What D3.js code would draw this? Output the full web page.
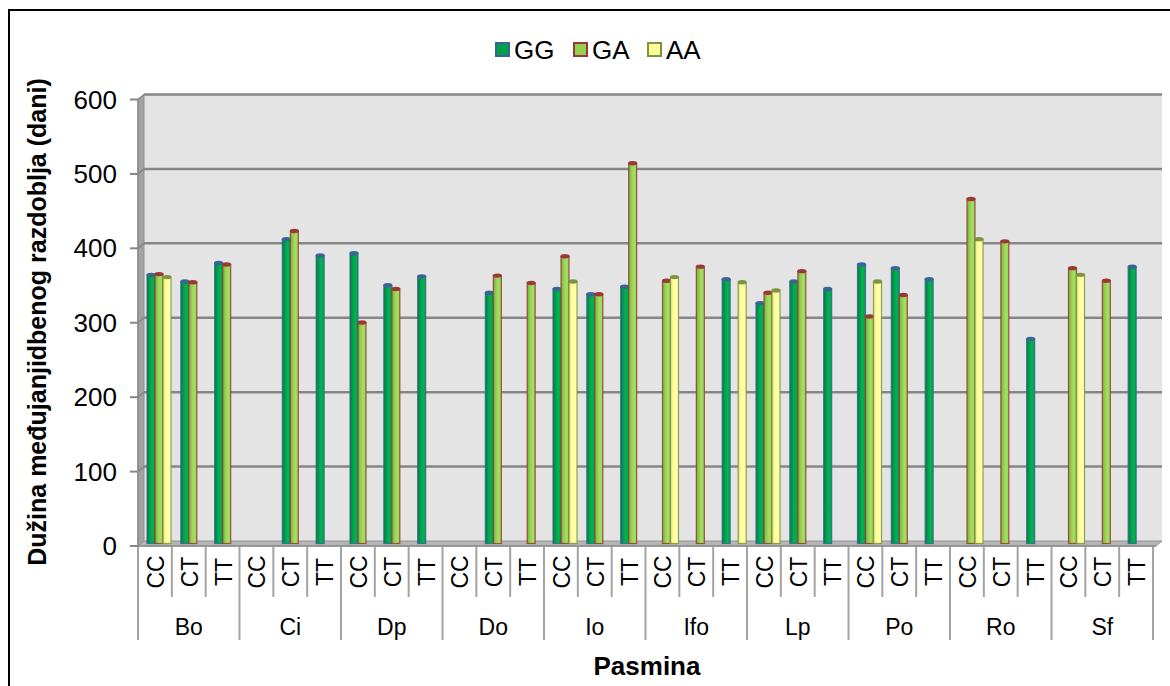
<!DOCTYPE html>
<html>
<head>
<meta charset="utf-8">
<script src="https://cdn.jsdelivr.net/npm/d3@7"></script>
<style>
  body { margin: 0; background: #fff; }
  svg { display: block; }
  text { font-family: "Liberation Sans", Arial, sans-serif; fill: #000; }
</style>
</head>
<body>
<svg id="chart" width="1170" height="686"></svg>
<script>
// Breeds (outer axis level) and genotypes (inner axis level)
const breeds = ["Bo", "Ci", "Dp", "Do", "Io", "Ifo", "Lp", "Po", "Ro", "Sf"];
const genotypes = ["CC", "CT", "TT"];
const seriesNames = ["GG", "GA", "AA"];

// Lambing interval (days), one value per breed × genotype, null where no animals
const valuesGG = [361, 352, 377,  null, 409, 387,  390, 347, 359,  null, 337, null,
                  342, 335, 345,  null, null, 355,  323, 352, 342,  375, 370, 355,
                  null, null, 275,  null, null, 372];
const valuesGA = [362, 351, 375,  null, 420, null,  297, 342, null,  null, 360, 350,
                  386, 335, 511,  353, 372, null,  337, 366, null,  305, 334, null,
                  463, 406, null,  370, 353, null];
const valuesAA = [358, null, null,  null, null, null,  null, null, null,  null, null, null,
                  352, null, null,  358, null, 351,  340, null, null,  352, null, null,
                  409, null, null,  361, null, null];
const yTicks = [0, 100, 200, 300, 400, 500, 600];

const seriesValues = { GG: valuesGG, GA: valuesGA, AA: valuesAA };
const palette = {
  GG: { light: "#00b452", mid: "#00a04a", dark: "#007c38", edge: "#3b6496" },
  GA: { light: "#a6df62", mid: "#92d050", dark: "#74ad3a", edge: "#9a3835" },
  AA: { light: "#ffffb0", mid: "#ffff99", dark: "#e2e27a", edge: "#7a9440" }
};

const svg = d3.select("#chart");
const defs = svg.append("defs");

// Outer frame
svg.append("rect").attr("x", 9).attr("y", 10).attr("width", 1170).attr("height", 690)
  .attr("fill", "none").attr("stroke", "#000").attr("stroke-width", 2);

// Category keys (breed|genotype)
const keys = [];
breeds.forEach(b => genotypes.forEach(g => keys.push(b + "|" + g)));

const x = d3.scaleBand().domain(keys).range([138, 1153]).padding(0);
const xs = d3.scaleBand().domain(seriesNames).range([9, 33]).padding(0);
const y = d3.scaleLinear().domain([0, 600]).range([546, 99.5]);

// 3D depth offset of the back wall
const dx = 6, dy = -5;
const x0 = 138, x1 = 1156;

// Back wall
svg.append("rect").attr("x", x0 + dx).attr("y", y(600) + dy)
  .attr("width", 1162 - (x0 + dx)).attr("height", y(0) - y(600))
  .attr("fill", "#e4e4e4");

// Left side wall
svg.append("polygon")
  .attr("points", [[x0, y(600)], [x0 + dx, y(600) + dy], [x0 + dx, y(0) + dy], [x0, y(0)]].join(" "))
  .attr("fill", "#a3a3a3").attr("stroke", "#8f8f8f").attr("stroke-width", 1);

// Floor
svg.append("polygon")
  .attr("points", [[x0, y(0)], [x0 + dx, y(0) + dy], [1162, y(0) + dy], [x1, y(0)]].join(" "))
  .attr("fill", "#b5b5b5").attr("stroke", "#959595").attr("stroke-width", 1);

// Gridlines on back wall + diagonal on side wall
const grid = svg.append("g");
yTicks.filter(v => v > 0).forEach(v => {
  grid.append("line").attr("x1", x0 + dx).attr("x2", 1162)
    .attr("y1", y(v) + dy).attr("y2", y(v) + dy)
    .attr("stroke", "#868686").attr("stroke-width", 2.5);
  grid.append("line").attr("x1", x0).attr("x2", x0 + dx)
    .attr("y1", y(v)).attr("y2", y(v) + dy)
    .attr("stroke", "#868686").attr("stroke-width", 1.5);
});

// Y axis ticks and labels
const yAxis = svg.append("g");
yTicks.forEach(v => {
  yAxis.append("line").attr("x1", 130).attr("x2", x0).attr("y1", y(v)).attr("y2", y(v))
    .attr("stroke", "#868686").attr("stroke-width", 2);
  yAxis.append("text").attr("x", 117).attr("y", y(v)).attr("text-anchor", "end")
    .attr("dominant-baseline", "central").style("font-size", "26px").text(v);
});
yAxis.append("line").attr("x1", x0).attr("x2", x0).attr("y1", y(600)).attr("y2", y(0))
  .attr("stroke", "#8a8a8a").attr("stroke-width", 1.5);

// Cylinder shading gradients
seriesNames.forEach(s => {
  const p = palette[s];
  const g = defs.append("linearGradient").attr("id", "grad-" + s)
    .attr("x1", "0%").attr("x2", "100%").attr("y1", "0%").attr("y2", "0%");
  g.append("stop").attr("offset", "0%").attr("stop-color", p.dark);
  g.append("stop").attr("offset", "35%").attr("stop-color", p.mid);
  g.append("stop").attr("offset", "65%").attr("stop-color", p.light);
  g.append("stop").attr("offset", "100%").attr("stop-color", p.mid);
});

// Bars (cylinders)
const barsG = svg.append("g");
const bw = xs.bandwidth();
const baseY = y(0) + dy / 2;
seriesNames.forEach(s => {
  const p = palette[s];
  const data = keys.map((k, i) => ({ key: k, v: seriesValues[s][i] })).filter(d => d.v != null);
  const g = barsG.append("g");
  g.selectAll("rect").data(data).join("rect")
    .attr("x", d => x(d.key) + xs(s))
    .attr("y", d => y(d.v) + dy / 2)
    .attr("width", bw)
    .attr("height", d => baseY - (y(d.v) + dy / 2))
    .attr("fill", "url(#grad-" + s + ")")
    .attr("stroke", p.edge).attr("stroke-opacity", 0.85).attr("stroke-width", 1.2);
  g.selectAll("ellipse").data(data).join("ellipse")
    .attr("cx", d => x(d.key) + xs(s) + bw / 2)
    .attr("cy", d => y(d.v) + dy / 2)
    .attr("rx", bw / 2 + 0.5).attr("ry", 2.2)
    .attr("fill", p.edge);
});

// Front axis line
svg.append("line").attr("x1", x0).attr("x2", x1).attr("y1", y(0)).attr("y2", y(0))
  .attr("stroke", "#8a8a8a").attr("stroke-width", 1.5);

// Category dividers
const divG = svg.append("g");
const step = x.step();
for (let i = 0; i <= keys.length; i++) {
  const xx = 138 + i * step;
  divG.append("line").attr("x1", xx).attr("x2", xx)
    .attr("y1", 547).attr("y2", i % 3 === 0 ? 640 : 597)
    .attr("stroke", "#a3a3a3").attr("stroke-width", 2);
}

// Genotype labels (rotated)
svg.append("g").selectAll("text").data(keys).join("text")
  .attr("transform", d => `translate(${x(d) + x.bandwidth() / 2 + 1},572) rotate(-90)`)
  .attr("text-anchor", "middle").attr("dominant-baseline", "central")
  .style("font-size", "23px")
  .text(d => d.split("|")[1]);

// Breed labels
svg.append("g").selectAll("text").data(breeds).join("text")
  .attr("x", (d, i) => 138 + (i * 3 + 1.5) * step)
  .attr("y", 627).attr("text-anchor", "middle").attr("dominant-baseline", "central")
  .style("font-size", "23px")
  .text(d => d);

// Axis titles
svg.append("text").attr("x", 647).attr("y", 666).attr("text-anchor", "middle")
  .attr("dominant-baseline", "central").style("font-size", "26px").style("font-weight", "bold")
  .text("Pasmina");
svg.append("text").attr("transform", "translate(37,322) rotate(-90)")
  .attr("text-anchor", "middle").attr("dominant-baseline", "central")
  .style("font-size", "25px").style("font-weight", "bold")
  .text("Dužina međujanjidbenog razdoblja (dani)");

// Legend
const legendPos = [{ s: "GG", x: 495 }, { s: "GA", x: 573 }, { s: "AA", x: 647 }];
const lg = svg.append("g");
legendPos.forEach(l => {
  lg.append("rect").attr("x", l.x + 1).attr("y", 43).attr("width", 13).attr("height", 13)
    .attr("fill", palette[l.s].mid).attr("stroke", palette[l.s].edge).attr("stroke-width", 2);
  lg.append("text").attr("x", l.x + 19).attr("y", 50).attr("dominant-baseline", "central")
    .style("font-size", "26px").text(l.s);
});
</script>
</body>
</html>
